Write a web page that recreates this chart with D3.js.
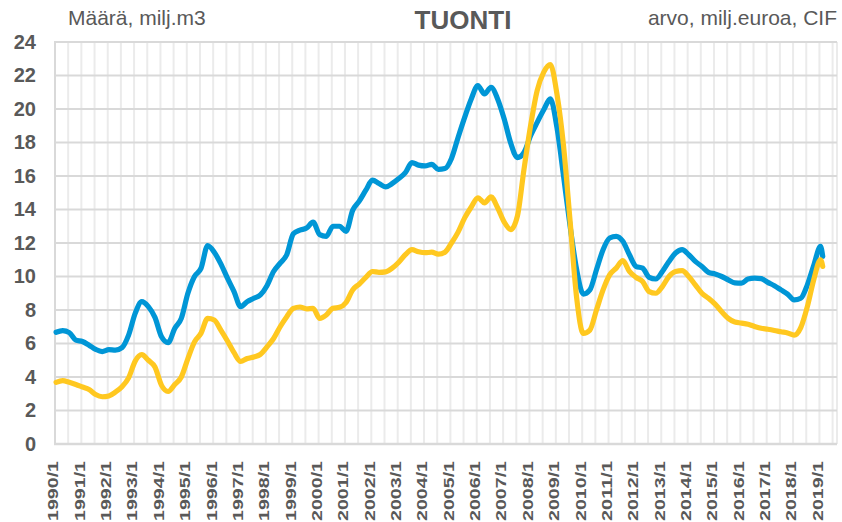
<!DOCTYPE html>
<html><head><meta charset="utf-8">
<script src="https://cdn.jsdelivr.net/npm/d3@7"></script>
<style>
html,body{margin:0;padding:0;background:#fff;}
svg text{font-family:"Liberation Sans",Arial,sans-serif;}
</style></head><body>
<svg id="chart" width="842" height="522"></svg>
<script>
// ---- data ----
const chartTitle = "TUONTI";
const leftNote = "Määrä, milj.m3";
const rightNote = "arvo, milj.euroa, CIF";
const firstYear = 1990;
const lastCategory = "2019/8";
const yTicks = [0, 2, 4, 6, 8, 10, 12, 14, 16, 18, 20, 22, 24];
const xTickLabels = ["1990/1","1991/1","1992/1","1993/1","1994/1","1995/1","1996/1","1997/1","1998/1","1999/1",
  "2000/1","2001/1","2002/1","2003/1","2004/1","2005/1","2006/1","2007/1","2008/1","2009/1",
  "2010/1","2011/1","2012/1","2013/1","2014/1","2015/1","2016/1","2017/1","2018/1","2019/1"];
// sample dates: every third month from 1990/1, then the last month 2019/2
const lastSample = "2019/2";
// Määrä, milj.m3 (blue)
const maaraValues = [
  6.67,6.77,6.65,6.2,6.12,5.9,5.65,5.52,5.63,5.6,
  5.75,6.5,7.8,8.5,8.2,7.56,6.4,6.05,6.9,7.5,
  9.0,10.0,10.5,11.85,11.45,10.75,9.9,9.1,8.2,8.5,
  8.7,8.9,9.45,10.3,10.8,11.3,12.55,12.77,12.89,13.25,
  12.5,12.4,13.0,13.0,12.7,13.95,14.5,15.15,15.75,15.55,
  15.35,15.55,15.85,16.2,16.8,16.65,16.6,16.7,16.4,16.45,
  17.05,18.3,19.5,20.6,21.4,20.9,21.3,20.6,19.4,17.95,
  17.1,17.4,18.4,19.2,19.95,20.6,18.9,16.0,13.0,10.4,
  8.95,9.2,10.4,11.6,12.3,12.4,12.1,11.3,10.6,10.5,
  9.95,9.85,10.3,10.9,11.4,11.6,11.3,10.9,10.6,10.25,
  10.15,10.0,9.8,9.62,9.6,9.85,9.9,9.87,9.65,9.45,
  9.2,8.95,8.6,8.7,9.5,10.7,11.8,11.2];
// arvo, milj.euroa, CIF (yellow)
const arvoValues = [
  3.68,3.78,3.68,3.55,3.4,3.25,2.95,2.82,2.87,3.1,
  3.42,3.95,4.95,5.33,5.0,4.6,3.5,3.14,3.55,4.0,
  5.1,6.1,6.62,7.5,7.4,6.8,6.15,5.45,4.93,5.1,
  5.2,5.35,5.8,6.3,7.0,7.6,8.1,8.18,8.07,8.1,
  7.5,7.7,8.1,8.16,8.45,9.2,9.55,9.95,10.3,10.25,
  10.28,10.5,10.85,11.3,11.6,11.48,11.42,11.45,11.33,11.45,
  12.0,12.65,13.5,14.15,14.7,14.4,14.75,14.1,13.25,12.8,
  13.6,16.4,19.0,21.1,22.2,22.65,20.9,17.8,13.3,8.7,
  6.6,6.8,8.0,9.2,10.1,10.5,10.95,10.3,9.95,9.7,
  9.1,9.0,9.4,10.0,10.3,10.35,10.0,9.5,9.0,8.7,
  8.35,7.9,7.5,7.28,7.22,7.15,7.02,6.91,6.85,6.78,
  6.7,6.63,6.5,6.95,8.2,9.85,11.0,10.6];
const seriesColors = ["#0096d6", "#ffc820"];

// ---- categories ----
const categories = [];
for (let y = firstYear, m = 1; ; ) {
  const c = y + "/" + m;
  categories.push(c);
  if (c === lastCategory) break;
  m++; if (m > 12) { m = 1; y++; }
}
const sampleDates = d3.range(0, categories.indexOf(lastSample), 3).map(i => categories[i]).concat([lastSample]);

// ---- layout ----
const svg = d3.select("#chart");
const plot = {left: 55, right: 837, top: 42, bottom: 444};
const textColor = "#595959";

const x = d3.scaleBand().domain(categories).range([plot.left, plot.right]).padding(0);
const y = d3.scaleLinear().domain([0, 24]).range([plot.bottom, plot.top]);
const xc = c => x(c) + x.bandwidth() / 2;

// vertical gridlines every 6 months (category boundaries)
const vGrid = categories.filter((c, i) => i % 6 === 0 && i > 0).map(c => x(c));
vGrid.push(plot.right);
svg.append("g").selectAll("line").data(vGrid).join("line")
  .attr("x1", d => d).attr("x2", d => d)
  .attr("y1", plot.top).attr("y2", plot.bottom)
  .attr("stroke", "#ebebeb").attr("stroke-width", 2);

// horizontal gridlines
svg.append("g").selectAll("line").data(yTicks).join("line")
  .attr("x1", plot.left).attr("x2", plot.right)
  .attr("y1", d => y(d)).attr("y2", d => y(d))
  .attr("stroke", "#d9d9d9").attr("stroke-width", 2);

// left border
svg.append("line").attr("x1", plot.left).attr("x2", plot.left)
  .attr("y1", plot.top - 1).attr("y2", plot.bottom + 1)
  .attr("stroke", "#d9d9d9").attr("stroke-width", 2);
// bottom axis line
svg.append("line").attr("x1", plot.left - 1).attr("x2", plot.right)
  .attr("y1", plot.bottom).attr("y2", plot.bottom)
  .attr("stroke", "#d9d9d9").attr("stroke-width", 2.5);

// y axis labels
const yAxis = svg.append("g").attr("transform", `translate(${plot.left},0)`)
  .call(d3.axisLeft(y).tickValues(yTicks).tickSize(0).tickPadding(19));
yAxis.select(".domain").remove();
yAxis.selectAll("text").attr("fill", textColor)
  .style("font-size", "20px").style("font-weight", "bold");

// x axis labels
const xAxis = svg.append("g").attr("transform", `translate(0,${plot.bottom})`)
  .call(d3.axisBottom(x).tickValues(xTickLabels).tickSize(0));
xAxis.select(".domain").remove();
xAxis.selectAll("text")
  .attr("transform", "rotate(-90)")
  .attr("x", -17).attr("y", -3).attr("dy", "0.35em")
  .attr("text-anchor", "end")
  .attr("fill", textColor)
  .attr("textLength", 60).attr("lengthAdjust", "spacingAndGlyphs")
  .style("font-size", "15px").style("font-weight", "bold");

// lines
const line = d3.line()
  .x((d, i) => xc(sampleDates[i]))
  .y(d => y(d))
  .curve(d3.curveMonotoneX);
[maaraValues, arvoValues].forEach((vals, k) => {
  svg.append("path").datum(vals)
    .attr("d", line)
    .attr("fill", "none")
    .attr("stroke", seriesColors[k])
    .attr("stroke-width", 5.2)
    .attr("stroke-linejoin", "round")
    .attr("stroke-linecap", "round");
});

// texts
svg.append("text").attr("x", 463).attr("y", 29)
  .attr("text-anchor", "middle").attr("fill", textColor)
  .style("font-size", "26px").style("font-weight", "bold").text(chartTitle);
svg.append("text").attr("x", 68).attr("y", 25)
  .attr("fill", textColor).style("font-size", "21px").text(leftNote);
svg.append("text").attr("x", 837).attr("y", 25).attr("text-anchor", "end")
  .attr("fill", textColor).style("font-size", "21px").text(rightNote);
</script>
</body></html>
